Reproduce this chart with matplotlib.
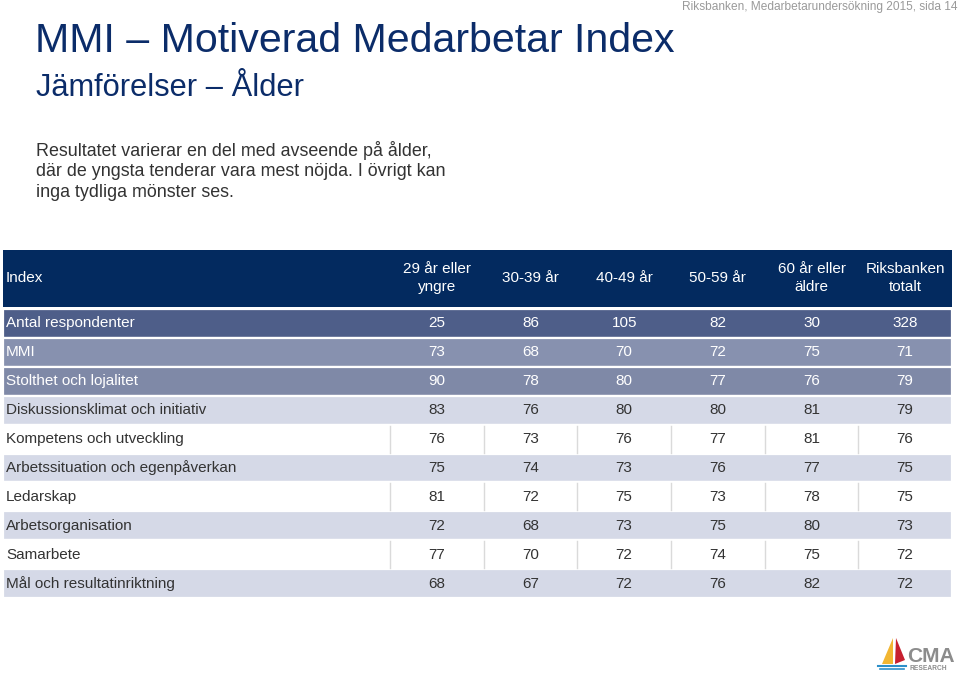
import matplotlib

matplotlib.use("Agg")

import matplotlib.pyplot as plt
from matplotlib.patches import Rectangle, Polygon

NAVY = "#0B2C69"
HEAD = "#032A5F"
BODY = "#333333"
GREY = "#9A9A9A"
LIGHT = "#D5D9E7"
SEP = "#DADADA"

columns = ["29 år eller\nyngre", "30-39 år", "40-49 år", "50-59 år",
           "60 år eller\näldre", "Riksbanken\ntotalt"]
rows = ["Antal respondenter", "MMI", "Stolthet och lojalitet",
        "Diskussionsklimat och initiativ", "Kompetens och utveckling",
        "Arbetssituation och egenpåverkan", "Ledarskap", "Arbetsorganisation",
        "Samarbete", "Mål och resultatinriktning"]
values = [
    [25, 86, 105, 82, 30, 328],
    [73, 68, 70, 72, 75, 71],
    [90, 78, 80, 77, 76, 79],
    [83, 76, 80, 80, 81, 79],
    [76, 73, 76, 77, 81, 76],
    [75, 74, 73, 76, 77, 75],
    [81, 72, 75, 73, 78, 75],
    [72, 68, 73, 75, 80, 73],
    [77, 70, 72, 74, 75, 72],
    [68, 67, 72, 76, 82, 72],
]
row_fill = ["#4E5E89", "#8791AF", "#7F89A7"] + [LIGHT, "white"] * 4
row_text = ["white", "white", "white"] + [BODY] * 7

fig = plt.figure(figsize=(9.6, 6.76), dpi=100)
ax = fig.add_axes([0, 0, 1, 1])
ax.set_xlim(0, 960)
ax.set_ylim(676, 0)
ax.axis("off")

SANS = ["Liberation Sans", "DejaVu Sans"]

# --- titles -------------------------------------------------------------
ax.text(35, 41, "MMI – Motiverad Medarbetar Index", fontsize=29.6, color=NAVY,
        family=SANS, va="center", ha="left")
ax.text(36, 88, "Jämförelser – Ålder", fontsize=22.2, color=NAVY,
        family=SANS, va="center", ha="left")
ax.text(957, 7, "Riksbanken, Medarbetarundersökning 2015, sida 14", fontsize=8.6,
        color=GREY, family=SANS, va="center", ha="right")
ax.text(36, 171, "Resultatet varierar en del med avseende på ålder,\n"
        "där de yngsta tenderar vara mest nöjda. I övrigt kan\n"
        "inga tydliga mönster ses.", fontsize=12.9, color=BODY, family=SANS,
        va="center", ha="left", linespacing=1.3)

# --- table --------------------------------------------------------------
x0, xlab, x1 = 3, 390, 952
colw = (x1 - xlab) / len(columns)
head_top, head_bot = 250, 307
row0, rowh = 309, 28.9

ax.add_patch(Rectangle((x0, head_top), x1 - x0, head_bot - head_top,
                       facecolor=HEAD, edgecolor="none"))
ax.text(6, 278, "Index", fontsize=11, color="white", family=SANS,
        va="center", ha="left")
for j, col in enumerate(columns):
    ax.text(xlab + colw * (j + 0.5), 278, col, fontsize=11, color="white",
            family=SANS, va="center", ha="center", linespacing=1.45)

for i, (name, vals) in enumerate(zip(rows, values)):
    top = row0 + rowh * i
    ax.add_patch(Rectangle((x0, top), x1 - x0, rowh, facecolor=row_fill[i],
                           edgecolor="white", linewidth=1.6))
    if row_fill[i] == "white":
        for j in range(len(columns)):
            xs = xlab + colw * j
            ax.plot([xs, xs], [top + 1, top + rowh - 1], color=SEP, lw=1)
    cy = top + rowh / 2
    ax.text(6, cy, name, fontsize=11, color=row_text[i], family=SANS,
            va="center", ha="left")
    for j, v in enumerate(vals):
        ax.text(xlab + colw * (j + 0.5), cy, str(v), fontsize=11,
                color=row_text[i], family=SANS, va="center", ha="center")

# --- logo ---------------------------------------------------------------
ax.add_patch(Polygon([[893, 638], [882, 664], [893, 664]], closed=True,
                     facecolor="#F2B632", edgecolor="none"))
ax.add_patch(Polygon([[896, 638], [905, 660], [895, 664]], closed=True,
                     facecolor="#C7202F", edgecolor="none"))
ax.plot([878, 906], [666, 666], color="#2C8FC9", lw=1.5)
ax.plot([880, 904], [669, 669], color="#2C8FC9", lw=1.2)
ax.text(907, 656, "CMA", fontsize=15, fontweight="bold", color="#8C8C8C",
        family=SANS, va="center", ha="left")
ax.text(909, 668, "RESEARCH", fontsize=4.8, fontweight="bold", color="#8C8C8C",
        family=SANS, va="center", ha="left")

fig.savefig("out.png", dpi=100, facecolor="white")
